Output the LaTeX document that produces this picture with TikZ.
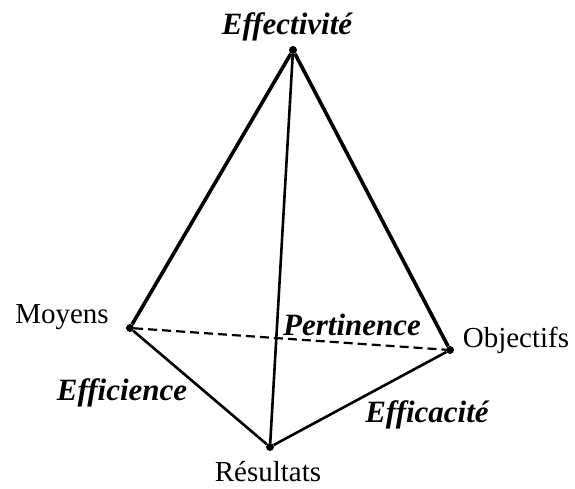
\documentclass[tikz,border=0pt]{standalone}
\usepackage{fontspec}
\setmainfont{Liberation Serif}
\usetikzlibrary{positioning}
\tikzset{
  vertex/.style={circle, fill=black, inner sep=0pt, minimum size=8pt},
  pole/.style={inner sep=0pt, anchor=base, font=\fontsize{29}{32}\selectfont},
  criterion/.style={inner sep=0pt, anchor=base, font=\fontsize{31}{34}\selectfont\bfseries\itshape},
  edge/.style={draw=black, line width=2.6pt},
  heavyedge/.style={draw=black, line width=3.6pt},
  hiddenedge/.style={draw=black, line width=2.2pt, dash pattern=on 9pt off 5pt},
}

\begin{document}
\begin{tikzpicture}[x=1pt, y=-1pt]
  \useasboundingbox (0,0) rectangle (575,488);
  % vertices of the tetrahedron
  \node[vertex] (apex) at (293,50) {};
  \node[vertex] (moy) at (130,328) {};
  \node[vertex] (obj) at (450,350) {};
  \node[vertex] (res) at (270,447) {};
  % edges
  \draw[hiddenedge] (moy) -- (obj);
  \draw[heavyedge] (apex) -- (moy);
  \draw[heavyedge] (apex) -- (obj);
  \draw[edge] (apex) -- (res);
  \draw[edge] (moy) -- (res);
  \draw[edge] (res) -- (obj);
  % labels
  \node[pole] (lmoy) at (62,323) {Moyens};
  \node[pole] (lobj) at (516,347) {Objectifs};
  \node[pole] (lres) at (268,481) {Résultats};
  \node[criterion] (leff) at (287,34) {Effectivité};
  \node[criterion] (lper) at (352,335) {Pertinence};
  \node[criterion] (lefn) at (122,400) {Efficience};
  \node[criterion] (lefc) at (427,422) {Efficacité};
\end{tikzpicture}
\end{document}
